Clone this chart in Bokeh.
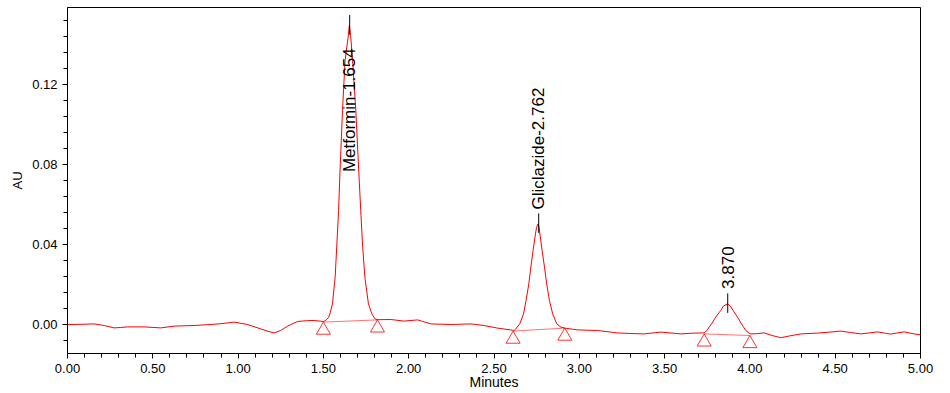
import math
from bokeh.plotting import figure
from bokeh.models import Range1d, FixedTicker, NumeralTickFormatter, ColumnDataSource
from bokeh.core.properties import value
from bokeh.embed import file_html
from bokeh.resources import INLINE

# ---------------- data ----------------
time_min = [
    0.00, 0.08, 0.156, 0.215, 0.273, 0.31, 0.352, 0.449, 0.547, 0.625, 0.742, 0.840, 0.90,
    0.977, 1.055, 1.133, 1.175, 1.211, 1.25, 1.290, 1.348, 1.40, 1.446, 1.50,
    1.514, 1.53, 1.538, 1.553, 1.569, 1.579, 1.589, 1.596, 1.612, 1.627, 1.645, 1.652,
    1.660, 1.671, 1.690, 1.709, 1.719, 1.729, 1.743, 1.764, 1.784, 1.803, 1.82,
    1.895, 1.973, 2.052, 2.130, 2.247, 2.364, 2.442, 2.520, 2.598, 2.618, 2.628, 2.651,
    2.673, 2.688, 2.704, 2.716, 2.729, 2.743, 2.750, 2.758, 2.764, 2.769, 2.782, 2.796,
    2.809, 2.825, 2.844, 2.868, 2.892, 2.915,
    2.990, 3.107, 3.224, 3.300, 3.380, 3.478, 3.595, 3.673, 3.732, 3.747, 3.775, 3.800,
    3.829, 3.845, 3.868, 3.885, 3.902, 3.927, 3.951, 3.976, 4.000,
    4.04, 4.083, 4.13, 4.181, 4.24, 4.298, 4.396, 4.47, 4.533, 4.59, 4.650, 4.70, 4.748,
    4.79, 4.826, 4.865, 4.904, 4.95, 5.00,
]
absorbance_au = [
    0.0000, 0.0001, 0.0003, -0.0005, -0.0017, -0.0015, -0.0012, -0.0012, -0.0017, -0.0008, -0.0005, 0.0000, 0.0004,
    0.0012, 0.0000, -0.0022, -0.0034, -0.0042, -0.0030, -0.0008, 0.0015, 0.0019, 0.0020, 0.0015,
    0.0020, 0.0035, 0.0053, 0.0103, 0.0237, 0.0403, 0.0570, 0.0737, 0.1070, 0.1320, 0.1437, 0.1495,
    0.1440, 0.1320, 0.1070, 0.0737, 0.0570, 0.0403, 0.0237, 0.0103, 0.0053, 0.0028, 0.0024,
    0.0025, 0.0017, 0.0023, 0.0003, 0.0000, 0.0003, -0.0005, -0.0018, -0.0027, -0.0030, -0.0022, 0.0003,
    0.0053, 0.0120, 0.0203, 0.0287, 0.0370, 0.0453, 0.0487, 0.0503, 0.0490, 0.0453, 0.0370, 0.0287,
    0.0203, 0.0120, 0.0053, 0.0003, -0.0013, -0.0018,
    -0.0027, -0.0030, -0.0042, -0.0045, -0.0047, -0.0038, -0.0047, -0.0043, -0.0042, -0.0030, 0.0003, 0.0037,
    0.0070, 0.0092, 0.0103, 0.0093, 0.0070, 0.0037, 0.0003, -0.0030, -0.0047,
    -0.0046, -0.0042, -0.0055, -0.0066, -0.0056, -0.0047, -0.0043, -0.0038, -0.0033, -0.0040, -0.0047, -0.0042, -0.0037,
    -0.0043, -0.0048, -0.0042, -0.0037, -0.0045, -0.0052,
]

peak_names = ["Metformin-1.654", "Gliclazide-2.762", "3.870"]
peak_rt = [1.654, 2.762, 3.870]
peak_apex_au = [0.1495, 0.0503, 0.0103]

int_start_t = [1.500, 2.612, 3.732]
int_start_au = [0.0012, -0.0033, -0.0047]
int_end_t = [1.817, 2.915, 4.000]
int_end_au = [0.0023, -0.0018, -0.0055]

x_ticks = [0.0, 0.5, 1.0, 1.5, 2.0, 2.5, 3.0, 3.5, 4.0, 4.5, 5.0]
y_ticks = [0.00, 0.04, 0.08, 0.12]
x_title = "Minutes"
y_title = "AU"

# ---------------- layout / style ----------------
W, H = 950, 393
BORDER_LEFT, BORDER_TOP, BORDER_BOTTOM, BORDER_RIGHT = 67, 7, 40, 30
FRAME_H = H - BORDER_TOP - BORDER_BOTTOM
Y_START = -0.0145
AU_PER_PX = 0.0005
Y_END = Y_START + FRAME_H * AU_PER_PX
FONT = "Liberation Sans"
RED = "#ff0000"

# label anchors (annotation placement, AU where each rotated label starts)
label_start_au = [0.0762, 0.0575, 0.0178]

x_minor = [round(i * 0.1, 1) for i in range(51)]
y_minor = [round(-0.008 + i * 0.008, 3) for i in range(21)]

p = figure(width=W, height=H, output_backend="svg", toolbar_location=None,
           x_range=Range1d(0, 5), y_range=Range1d(Y_START, Y_END),
           min_border_left=BORDER_LEFT, min_border_top=BORDER_TOP,
           min_border_bottom=BORDER_BOTTOM, min_border_right=BORDER_RIGHT,
           background_fill_color="white", border_fill_color="white")
p.xgrid.visible = False
p.ygrid.visible = False
p.outline_line_color = "black"
p.outline_line_alpha = 1.0
p.outline_line_width = 1

p.xaxis.ticker = FixedTicker(ticks=x_ticks, minor_ticks=x_minor)
p.yaxis.ticker = FixedTicker(ticks=y_ticks, minor_ticks=y_minor)
for ax in (p.xaxis, p.yaxis):
    ax.formatter = NumeralTickFormatter(format="0.00")
    ax.axis_line_color = "black"
    ax.major_tick_line_color = "black"
    ax.minor_tick_line_color = "black"
    ax.major_tick_in = 0
    ax.minor_tick_in = 0
    ax.major_tick_out = 5
    ax.minor_tick_out = 4
    ax.major_label_text_font = FONT
    ax.major_label_text_font_size = "13px"
    ax.major_label_text_color = "black"
    ax.major_label_standoff = 5
    ax.axis_label_text_font = FONT
    ax.axis_label_text_font_style = "normal"
    ax.axis_label_text_color = "black"
p.yaxis.axis_label = y_title
p.yaxis.axis_label_text_font_size = "13px"
p.yaxis.axis_label_standoff = 4
p.xaxis.axis_label = x_title
p.xaxis.axis_label_text_font_size = "14px"
p.xaxis.axis_label_standoff = -2

# chromatogram trace
p.line(time_min, absorbance_au, line_color=RED, line_width=1)

# integration baselines
p.segment(x0=int_start_t, y0=int_start_au, x1=int_end_t, y1=int_end_au,
          line_color=RED, line_alpha=0.55, line_width=1)

# integration markers (open triangles hanging below the baseline points)
TRI_SIZE = 14
tri_drop = TRI_SIZE * math.sqrt(3) / 3 * AU_PER_PX
tri_t = int_start_t + int_end_t
tri_au = [v - tri_drop for v in int_start_au + int_end_au]
p.scatter(tri_t, tri_au, marker="triangle", size=TRI_SIZE, fill_color=None,
          line_color=RED, line_alpha=0.8, line_width=1)

# apex ticks
p.segment(x0=peak_rt, x1=peak_rt,
          y0=[a - 9 * AU_PER_PX for a in peak_apex_au],
          y1=[a + 10.5 * AU_PER_PX for a in peak_apex_au],
          line_color="black", line_width=1)

# peak labels
src = ColumnDataSource(dict(x=peak_rt, y=label_start_au, t=peak_names))
p.text(x="x", y="y", text="t", source=src, angle=math.pi / 2,
       text_align="left", text_baseline="middle",
       text_font=value(FONT), text_font_size="17px", text_color="black")

open("out.html", "w").write(file_html(p, INLINE))
